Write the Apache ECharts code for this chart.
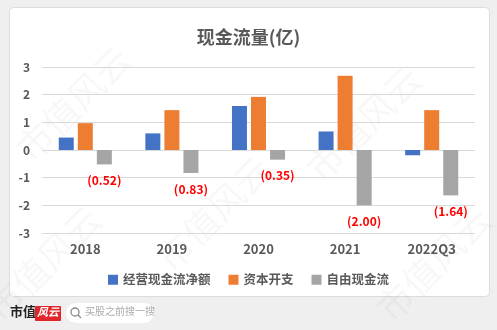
<!DOCTYPE html>
<html><head><meta charset="utf-8">
<script src="https://cdn.jsdelivr.net/npm/echarts@6/dist/echarts.min.js"></script>
<style>html,body{margin:0;padding:0;background:#efefef;}#c{width:497px;height:330px;}</style>
</head><body><div id="c"></div>
<script>
const categories = ['2018','2019','2020','2021','2022Q3'];
const opCash = [0.45, 0.60, 1.59, 0.67, -0.19];
const capex = [0.97, 1.44, 1.92, 2.68, 1.44];
const freeCash = [-0.52, -0.83, -0.35, -2.00, -1.64];
const seriesNames = ['经营现金流净额','资本开支','自由现金流'];
const colors = ['#4472c4','#ed7d31','#a5a5a5'];
const yTicks = [-3,-2,-1,0,1,2,3];

const chart = echarts.init(document.getElementById('c'), null, {renderer:'canvas'});
const font = '"Noto Sans CJK SC", "Noto Sans", sans-serif';
const wm = (x,y)=>({type:'text', left:x, top:y, rotation:Math.PI/4, silent:true, z:0,
  style:{text:'市值风云', font:'36px '+font, fill:'rgba(0,0,0,0.03)'}});
chart.setOption({
  backgroundColor:'#efefef',
  textStyle:{fontFamily:font},
  title:{text:'现金流量(亿)', left:'center', top:23, textStyle:{fontSize:18, fontWeight:'bold', color:'#595959', fontFamily:font}},
  grid:{left:42, right:22, top:67, bottom:97},
  legend:{bottom:39, left:'center', itemWidth:10, itemHeight:10, itemGap:18, icon:'rect',
    textStyle:{fontSize:12.5, color:'#595959', fontWeight:'bold', fontFamily:font}},
  graphic:[
    {type:'rect', shape:{x:9.5,y:7.5,width:480,height:289,r:4}, style:{fill:'#fff', stroke:'#dcdcdc', lineWidth:1}, z:-10, silent:true},
    wm(10,40), wm(150,150), wm(300,60), wm(370,200), wm(-20,200),
    {type:'text', left:10, top:305, style:{text:'市值', font:'bold 13px "Noto Sans CJK SC"', fill:'#222'}},
    {type:'rect', shape:{x:35,y:306,width:26,height:15,r:1}, style:{fill:'#e0262b'}},
    {type:'text', left:37, top:306, style:{text:'风云', font:'italic bold 11px "Noto Sans CJK SC"', fill:'#fff'}},
    {type:'rect', shape:{x:66,y:303,width:88,height:20,r:10}, style:{fill:'#fff'}},
    {type:'circle', shape:{cx:75,cy:312,r:4}, style:{fill:'none', stroke:'#888', lineWidth:1.3}},
    {type:'line', shape:{x1:78,y1:315,x2:81,y2:318}, style:{stroke:'#888', lineWidth:1.3}},
    {type:'text', left:85, top:306, style:{text:'买股之前搜一搜', font:'10px "Noto Sans CJK SC"', fill:'#aaa'}}
  ],
  xAxis:{type:'category', data:categories, axisLine:{show:false}, axisTick:{show:false},
    axisLabel:{fontSize:13, color:'#595959', fontWeight:'bold', margin:10}},
  yAxis:{type:'value', min:-3, max:3, interval:1, axisLine:{show:false}, axisTick:{show:false},
    splitLine:{lineStyle:{color:'#d9d9d9'}},
    axisLabel:{fontSize:12, color:'#595959', fontWeight:'bold', margin:12,
      formatter:v=>yTicks.includes(v)?String(v):''}},
  series:[
    {name:seriesNames[0], type:'bar', data:opCash, itemStyle:{color:colors[0]}, barWidth:15, barGap:'27%'},
    {name:seriesNames[1], type:'bar', data:capex, itemStyle:{color:colors[1]}, barWidth:15, barGap:'27%'},
    {name:seriesNames[2], type:'bar', data:freeCash, itemStyle:{color:colors[2]}, barWidth:15, barGap:'27%',
      label:{show:true, position:'bottom', distance:10, color:'#ff0000', fontSize:12, fontWeight:'bold',
        formatter:p=>'('+Math.abs(p.value).toFixed(2)+')'}}
  ]
});
</script></body></html>
